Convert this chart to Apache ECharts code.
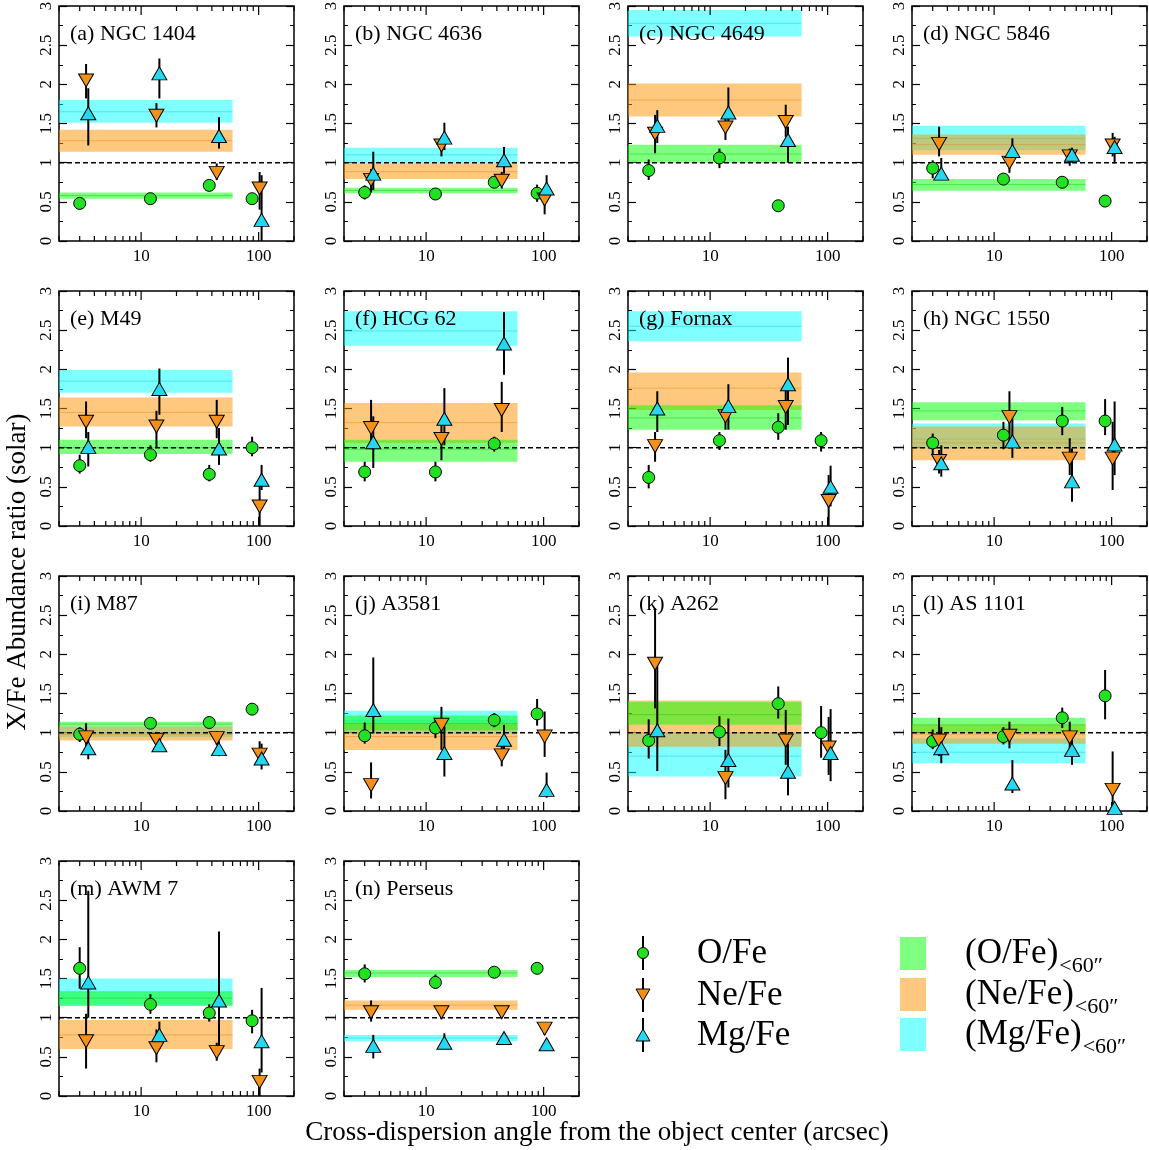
<!DOCTYPE html>
<html><head><meta charset="utf-8">
<script src="https://cdn.jsdelivr.net/npm/echarts@6/dist/echarts.min.js"></script>
<style>html,body{margin:0;padding:0;background:#fff}#c{width:1149px;height:1150px}</style>
</head><body><div id="c"></div>
<script>
// ---------------- DATA ----------------
const panelNames = ['(a) NGC 1404','(b) NGC 4636','(c) NGC 4649','(d) NGC 5846','(e) M49','(f) HCG 62','(g) Fornax','(h) NGC 1550','(i) M87','(j) A3581','(k) A262','(l) AS 1101','(m) AWM 7','(n) Perseus'];
// radial bins (arcsec), slightly offset per element
const xO  = [3, 12, 38, 88];
const xNe = [3.4, 13.5, 44, 102];
const xMg = [3.55, 14.3, 46, 106];
const xTickLabels = ['10', '100'];
const yTickLabels = ['0', '0.5', '1', '1.5', '2', '2.5', '3'];
const bandEnd = 60;      // bands are averages within 60 arcsec
const refLevel = 1;      // solar ratio

const oVal = [
  [0.48,0.54,0.71,0.54],[0.62,0.60,0.75,0.61],[0.90,1.06,0.45,null],[0.93,0.79,0.75,0.51],
  [0.77,0.91,0.66,1.00],[0.69,0.69,1.05,null],[0.62,1.09,1.26,1.09],[1.06,1.16,1.34,1.34],
  [0.98,1.12,1.13,1.30],[0.96,1.06,1.16,1.24],[0.90,1.01,1.37,1.00],[0.89,0.95,1.19,1.47],
  [1.63,1.17,1.06,0.96],[1.56,1.45,1.58,1.63]];
const oLo = [
  [0.45,0.51,0.68,0.50],[0.53,0.57,0.72,0.50],[0.78,0.93,0.42,null],[0.80,0.74,0.72,0.48],
  [0.67,0.82,0.57,0.89],[0.57,0.57,0.95,null],[0.48,0.97,1.10,0.95],[0.91,0.98,1.16,1.16],
  [0.88,1.09,1.10,1.27],[0.86,0.93,1.07,1.09],[0.67,0.83,1.18,0.68],[0.79,0.85,1.06,1.17],
  [1.37,1.05,0.95,0.80],[1.45,1.37,1.55,1.60]];
const oHi = [
  [0.51,0.57,0.74,0.58],[0.71,0.63,0.78,0.72],[1.04,1.18,0.48,null],[1.03,0.84,0.78,0.54],
  [0.91,1.03,0.78,1.14],[0.82,0.82,1.14,null],[0.78,1.20,1.44,1.20],[1.18,1.33,1.52,1.62],
  [1.07,1.15,1.16,1.33],[1.13,1.18,1.25,1.43],[1.17,1.21,1.59,1.34],[1.04,1.07,1.32,1.80],
  [1.90,1.30,1.17,1.10],[1.68,1.55,1.61,1.66]];

const neVal = [
  [2.05,1.60,0.87,0.67],[0.78,1.22,0.77,0.53],[1.37,1.45,1.52,null],[1.24,1.00,1.08,1.22],
  [1.33,1.27,1.33,0.25],[1.25,1.11,1.48,null],[1.02,1.40,1.52,0.32],[0.83,1.39,0.86,0.86],
  [0.94,0.91,0.93,0.72],[0.33,1.10,0.71,0.95],[1.88,0.42,0.90,0.81],[0.90,0.96,0.94,0.27],
  [0.70,0.61,0.56,0.18],[1.07,1.07,1.07,0.86]];
const neLo = [
  [1.82,1.45,0.78,0.40],[0.62,1.08,0.67,0.34],[1.12,1.29,1.33,null],[1.08,0.87,0.96,1.08],
  [1.12,1.00,1.12,0.00],[0.98,0.84,1.20,null],[0.82,1.23,1.23,0.00],[0.67,1.05,0.65,0.46],
  [0.80,0.82,0.84,0.60],[0.16,0.78,0.57,0.69],[1.31,0.15,0.59,0.46],[0.70,0.80,0.78,0.00],
  [0.35,0.43,0.45,0.00],[0.95,0.98,1.00,0.78]];
const neHi = [
  [2.26,1.76,0.99,0.88],[0.92,1.33,0.88,0.65],[1.61,1.61,1.74,null],[1.46,1.14,1.18,1.38],
  [1.59,1.47,1.61,0.52],[1.61,1.29,1.84,null],[1.20,1.55,1.74,0.65],[0.97,1.72,1.12,1.33],
  [1.12,1.01,1.02,0.89],[0.62,1.33,0.88,1.27],[2.59,0.78,1.29,1.20],[1.19,1.14,1.14,0.76],
  [1.05,0.85,0.68,0.35],[1.22,1.15,1.15,0.92]];

const mgVal = [
  [1.63,2.14,1.34,0.27],[0.86,1.32,1.03,0.67],[1.47,1.64,1.29,null],[0.86,1.15,1.10,1.20],
  [1.01,1.75,0.99,0.59],[1.07,1.37,2.33,null],[1.50,1.53,1.81,0.50],[0.80,1.08,0.57,1.04],
  [0.80,0.84,0.79,0.67],[1.29,0.74,0.91,0.27],[1.03,0.65,0.50,0.74],[0.80,0.35,0.78,0.04],
  [1.45,0.78,1.22,0.70],[0.64,0.68,0.74,0.66]];
const mgLo = [
  [1.22,1.82,1.18,0.00],[0.65,1.16,0.86,0.52],[1.25,1.49,1.00,null],[0.80,1.06,1.00,0.99],
  [0.76,1.42,0.78,0.46],[0.74,1.03,1.93,null],[1.20,1.23,1.29,0.25],[0.63,0.87,0.31,0.65],
  [0.66,0.76,0.70,0.53],[0.99,0.44,0.69,0.17],[0.51,0.30,0.20,0.38],[0.61,0.23,0.59,0.00],
  [1.00,0.60,0.55,0.30],[0.48,0.60,0.68,0.58]];
const mgHi = [
  [1.95,2.33,1.58,0.84],[1.14,1.51,1.20,0.84],[1.67,1.96,1.46,null],[1.06,1.31,1.19,1.33],
  [1.20,2.01,1.25,0.78],[1.40,1.76,2.73,null],[1.72,1.81,2.15,0.77],[1.03,1.37,0.99,1.59],
  [0.95,0.93,0.89,0.86],[1.96,1.08,1.10,0.49],[1.89,1.18,0.86,1.30],[1.07,0.65,0.97,0.08],
  [2.62,0.95,2.10,1.38],[0.78,0.80,0.80,0.72]];

// bands within 60": [low, central, high]
const oBand = [
  [0.54,0.58,0.62],[0.61,0.645,0.68],[1.00,1.11,1.23],[0.64,0.72,0.79],
  [0.92,1.00,1.10],[0.82,0.98,1.10],[1.23,1.38,1.54],[1.35,1.47,1.58],
  [1.08,1.11,1.14],[1.03,1.12,1.22],[1.10,1.23,1.39],[1.00,1.10,1.19],
  [1.15,1.25,1.33],[1.52,1.57,1.61]];
const neBand = [
  [1.14,1.28,1.42],[0.79,0.885,0.99],[1.59,1.80,2.01],[1.10,1.23,1.36],
  [1.27,1.45,1.64],[1.06,1.32,1.57],[1.48,1.76,1.96],[0.84,1.06,1.27],
  [0.90,0.98,1.08],[0.78,0.95,1.12],[0.82,1.00,1.41],[0.86,0.98,1.10],
  [0.60,0.78,0.97],[1.10,1.16,1.22]];
const mgBand = [
  [1.51,1.65,1.80],[0.99,1.10,1.19],[2.61,2.78,2.95],[1.16,1.31,1.47],
  [1.70,1.85,1.99],[2.30,2.49,2.74],[2.36,2.55,2.74],[0.99,1.11,1.31],
  [0.94,1.00,1.08],[0.98,1.15,1.28],[0.44,0.70,1.00],[0.61,0.75,0.93],
  [1.16,1.33,1.50],[0.70,0.74,0.78]];

const xMinorTicks = [2,3,4,5,6,7,8,9,20,30,40,50,60,70,80,90,200];
const xMajorTicks = [10,100];

// ---------------- STYLE / LAYOUT ----------------
const FONT = 'Liberation Serif';
const colLeft = [59, 344, 628, 912];
const rowTop = [6, 291, 576, 861];
const W = 235, H = 235;
const mk = { o: '#22e022', ne: '#f39019', mg: '#24d8f2' };
const bandFill = { o: 'rgba(0,255,0,0.5)', ne: 'rgba(255,145,0,0.5)', mg: 'rgba(0,255,255,0.5)' };
const bandLine = { o: 'rgba(0,190,0,0.4)', ne: 'rgba(230,120,0,0.4)', mg: 'rgba(0,190,210,0.4)' };

function fmtX(v) {
  const lg = Math.log10(v), r = Math.round(lg);
  if (Math.abs(lg - r) < 1e-6) {
    const s = xTickLabels.find(t => Number(t) === Math.pow(10, r));
    return s || '';
  }
  return '';
}

const grids = [], xAxes = [], yAxes = [], series = [];
const tickStyle = { color: '#000', width: 1.2 };

for (let p = 0; p < panelNames.length; p++) {
  grids.push({ left: colLeft[p % 4], top: rowTop[Math.floor(p / 4)], width: W, height: H,
    show: true, borderColor: '#000', borderWidth: 1.5, backgroundColor: 'rgba(0,0,0,0)',
    containLabel: false, outerBoundsMode: 'none' });
  xAxes.push({ gridIndex: p, type: 'log', logBase: 10, min: 2, max: 200,
    axisLine: { show: false }, axisTick: { show: false }, splitLine: { show: false }, minorTick: { show: false },
    axisLabel: { show: true, margin: 7, fontSize: 17, fontFamily: FONT, color: '#000', formatter: fmtX } });
  const yCommon = { gridIndex: p, type: 'value', min: 0, max: 3, interval: 0.5,
    axisLine: { show: false },
    axisTick: { show: true, inside: true, length: 8, lineStyle: tickStyle },
    minorTick: { show: true, splitNumber: 2, length: 4, lineStyle: { color: '#000', width: 1 } },
    splitLine: { show: false }, minorSplitLine: { show: false } };
  yAxes.push(Object.assign({}, yCommon, { position: 'left',
    axisLabel: { rotate: 90, margin: 4, fontSize: 17, fontFamily: FONT, color: '#000',
      formatter: v => yTickLabels[Math.round(v * 2)] } }));
  yAxes.push(Object.assign({}, yCommon, { position: 'right', axisLabel: { show: false } }));
  const yi = 2 * p;

  // bands (Mg, Ne, O order)
  [['mg', mgBand], ['ne', neBand], ['o', oBand]].forEach(([k, arr]) => {
    const b = arr[p];
    series.push({ type: 'custom', xAxisIndex: p, yAxisIndex: yi, z: 1, silent: true, clip: true,
      encode: { x: [0, 2], y: [1, 3, 4] },
      data: [[2, b[0], bandEnd, b[2], b[1]]],
      renderItem: (params, api) => {
        const p1 = api.coord([api.value(0), api.value(3)]);
        const p2 = api.coord([api.value(2), api.value(1)]);
        const m1 = api.coord([api.value(0), api.value(4)]);
        const m2 = api.coord([api.value(2), api.value(4)]);
        return { type: 'group', children: [
          { type: 'rect', shape: { x: p1[0], y: p1[1], width: p2[0] - p1[0], height: p2[1] - p1[1] }, style: { fill: bandFill[k] } },
          { type: 'line', shape: { x1: m1[0], y1: m1[1], x2: m2[0], y2: m2[1] }, style: { stroke: bandLine[k], lineWidth: 1 } }
        ] };
      } });
  });

  // reference line at solar ratio
  series.push({ type: 'line', xAxisIndex: p, yAxisIndex: yi, z: 2, silent: true, symbol: 'none',
    data: [[2, refLevel], [200, refLevel]],
    lineStyle: { color: '#000', width: 1.5, type: [5, 3] } });

  // x ticks (inside, bottom and top)
  series.push({ type: 'custom', xAxisIndex: p, yAxisIndex: yi, z: 2, silent: true, clip: false,
    encode: { x: 0 },
    data: xMinorTicks.map(v => [v, 0]).concat(xMajorTicks.map(v => [v, 1])),
    renderItem: (params, api) => {
      const v = api.value(0), len = api.value(1) ? 9 : 5;
      const b = api.coord([v, 0]), t = api.coord([v, 3]);
      return { type: 'group', children: [
        { type: 'line', shape: { x1: b[0], y1: b[1], x2: b[0], y2: b[1] - len }, style: { stroke: '#000', lineWidth: 1.2 } },
        { type: 'line', shape: { x1: t[0], y1: t[1], x2: t[0], y2: t[1] + len }, style: { stroke: '#000', lineWidth: 1.2 } }
      ] };
    } });

  // error bars
  const bars = [];
  [[xO, oLo, oHi], [xNe, neLo, neHi], [xMg, mgLo, mgHi]].forEach(([xs, lo, hi]) => {
    xs.forEach((x, j) => { if (lo[p][j] != null) bars.push([x, lo[p][j], hi[p][j]]); });
  });
  series.push({ type: 'custom', xAxisIndex: p, yAxisIndex: yi, z: 3, silent: true, clip: true,
    encode: { x: 0, y: [1, 2] }, data: bars,
    renderItem: (params, api) => {
      const a = api.coord([api.value(0), api.value(1)]);
      const b = api.coord([api.value(0), api.value(2)]);
      return { type: 'line', shape: { x1: a[0], y1: a[1], x2: b[0], y2: b[1] }, style: { stroke: '#000', lineWidth: 2 } };
    } });

  // markers
  const pts = (xs, vals) => xs.map((x, j) => vals[p][j] == null ? null : [x, vals[p][j]]).filter(d => d);
  series.push({ type: 'scatter', xAxisIndex: p, yAxisIndex: yi, z: 4, silent: true,
    symbol: 'circle', symbolSize: 12, data: pts(xO, oVal),
    itemStyle: { color: mk.o, borderColor: '#000', borderWidth: 1, opacity: 1 } });
  series.push({ type: 'scatter', xAxisIndex: p, yAxisIndex: yi, z: 4, silent: true,
    symbol: 'triangle', symbolRotate: 180, symbolSize: [15, 13], data: pts(xNe, neVal),
    itemStyle: { color: mk.ne, borderColor: '#000', borderWidth: 1, opacity: 1 } });
  series.push({ type: 'scatter', xAxisIndex: p, yAxisIndex: yi, z: 4, silent: true,
    symbol: 'triangle', symbolSize: [15, 13], data: pts(xMg, mgVal),
    itemStyle: { color: mk.mg, borderColor: '#000', borderWidth: 1, opacity: 1 } });
}

// ---------------- GRAPHIC (titles, axis names, legend) ----------------
const graphic = [];
function txt(x, y, text, size, opts) {
  return Object.assign({ type: 'text', x: x, y: y, z: 10, silent: true,
    style: { text: text, fontSize: size, fontFamily: FONT, fill: '#000',
      align: 'left', verticalAlign: 'middle', textAlign: 'left', textVerticalAlign: 'middle' } }, opts || {});
}
panelNames.forEach((n, p) => {
  graphic.push(txt(colLeft[p % 4] + 11, rowTop[Math.floor(p / 4)] + 28, n, 22));
});
const yName = txt(18, 572, 'X/Fe Abundance ratio (solar)', 27, { rotation: Math.PI / 2 });
yName.style.align = 'center'; yName.style.textAlign = 'center';
graphic.push(yName);
const xName = txt(597, 1133, 'Cross-dispersion angle from the object center (arcsec)', 27);
xName.style.align = 'center'; xName.style.textAlign = 'center';
graphic.push(xName);

// legend: markers
const legItems = [['O/Fe', 'o', 953], ['Ne/Fe', 'ne', 995], ['Mg/Fe', 'mg', 1035]];
const lx = 643;
legItems.forEach(([label, k, cy]) => {
  graphic.push({ type: 'line', z: 10, silent: true, shape: { x1: lx, y1: cy - 17, x2: lx, y2: cy + 17 }, style: { stroke: '#000', lineWidth: 2 } });
  if (k === 'o') {
    graphic.push({ type: 'circle', z: 11, silent: true, shape: { cx: lx, cy: cy, r: 5.5 }, style: { fill: mk.o, stroke: '#000', lineWidth: 1 } });
  } else if (k === 'ne') {
    graphic.push({ type: 'polygon', z: 11, silent: true, shape: { points: [[lx - 7, cy - 6], [lx + 7, cy - 6], [lx, cy + 6]] }, style: { fill: mk.ne, stroke: '#000', lineWidth: 1 } });
  } else {
    graphic.push({ type: 'polygon', z: 11, silent: true, shape: { points: [[lx - 7, cy + 6], [lx + 7, cy + 6], [lx, cy - 6]] }, style: { fill: mk.mg, stroke: '#000', lineWidth: 1 } });
  }
  graphic.push(txt(697, cy + 1, label, 35));
});
// legend: bands
const cv = document.createElement('canvas').getContext('2d');
const bandLeg = [['(O/Fe)', 'o', 954], ['(Ne/Fe)', 'ne', 995], ['(Mg/Fe)', 'mg', 1035]];
bandLeg.forEach(([label, k, cy]) => {
  graphic.push({ type: 'rect', z: 10, silent: true, shape: { x: 900, y: cy - 17, width: 26, height: 33 }, style: { fill: bandFill[k] } });
  graphic.push(txt(965, cy, label, 35));
  cv.font = '35px "Liberation Serif"';
  const w = cv.measureText(label).width;
  graphic.push(txt(965 + w + 1, cy + 12, '<60\u2033', 22));
});

const chart = echarts.init(document.getElementById('c'), null, { renderer: 'canvas' });
chart.setOption({ animation: false, backgroundColor: '#fff', grid: grids, xAxis: xAxes, yAxis: yAxes, series: series, graphic: graphic });
</script></body></html>
